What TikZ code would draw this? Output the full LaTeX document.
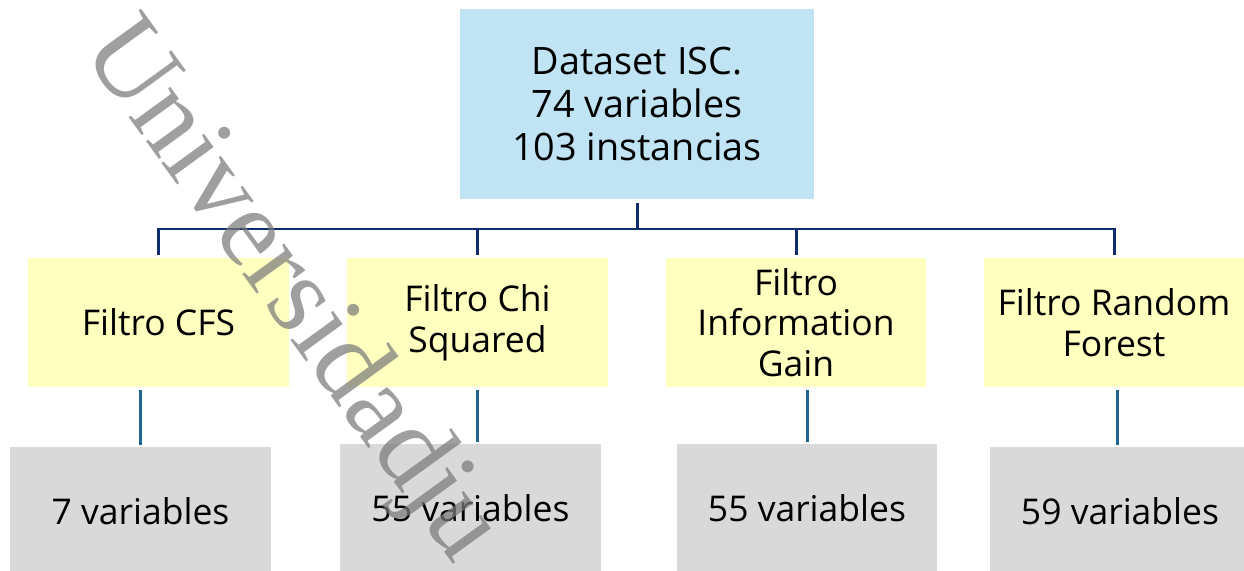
\documentclass[tikz,border=0pt]{standalone}
\usepackage{fontspec}
\setmainfont{Open Sans}
\newfontfamily\markfont{Liberation Serif}
\usetikzlibrary{calc}

\definecolor{dataBlue}{HTML}{C0E4F4}
\definecolor{filterYellow}{HTML}{FFFFC0}
\definecolor{resultGray}{HTML}{D9D9D9}
\definecolor{busNavy}{HTML}{0E2C6E}
\definecolor{linkTeal}{HTML}{1F6591}

\tikzset{
  dataset/.style={rectangle, fill=dataBlue, minimum width=7.08cm, minimum height=3.8cm,
    align=center, font=\fontsize{21.5}{24.5}\selectfont},
  filter/.style={rectangle, fill=filterYellow, minimum width=5.22cm, minimum height=2.58cm,
    align=center, inner sep=1pt, font=\fontsize{20.2}{23.2}\selectfont},
  result/.style={rectangle, fill=resultGray, minimum width=5.22cm, minimum height=2.58cm,
    align=center, font=\fontsize{20.2}{23.2}\selectfont},
  bus/.style={draw=busNavy, line width=1.7pt},
  link/.style={draw=linkTeal, line width=1.7pt, shorten <=0.06cm, shorten >=0.02cm},
  watermark/.style={text=black!52, opacity=0.72, rotate=-54, anchor=base west,
    inner sep=0pt, font=\markfont\fontsize{64}{64}\selectfont}
}

\begin{document}
\begin{tikzpicture}[x=0.02cm, y=-0.02cm]
  \useasboundingbox (0,0) rectangle (1244,571);
  \clip (0,0) rectangle (1244,571);

  \node[dataset] (top) at (637,104) {Dataset ISC.\\74 variables\\103 instancias};

  \node[filter] (cfs) at (158.5,322.5) {Filtro CFS};
  \node[filter] (chi) at (477.5,322.5) {Filtro Chi\\Squared};
  \node[filter] (gain) at (796,322.5) {Filtro\\Information\\Gain};
  \node[filter] (forest) at (1114,322.5) {Filtro Random\\Forest};

  \node[result] (res1) at (140.5,511) {7 variables};
  \node[result] (res2) at (470.5,508) {55 variables};
  \node[result] (res3) at (807,508) {55 variables};
  \node[result] (res4) at (1120,511) {59 variables};

  % tree from the dataset to the filters
  \coordinate (split) at (637,229);
  \draw[bus, shorten <=0.08cm] (top.south) -- (split);
  \foreach \f in {cfs,chi,gain,forest}
    \draw[bus, shorten >=0.06cm] (split) -| (\f.north);

  % filters to results
  \draw[link] (cfs.south -| res1.north) -- (res1.north);
  \draw[link] (chi.south) -- (chi.south |- res2.north);
  \draw[link] (gain.south -| res3.north) -- (res3.north);
  \draw[link] (forest.south -| 1117,0) -- (res4.north -| 1117,0);

  \node[watermark] (mark) at (80,50) {Universidadju};
\end{tikzpicture}
\end{document}
